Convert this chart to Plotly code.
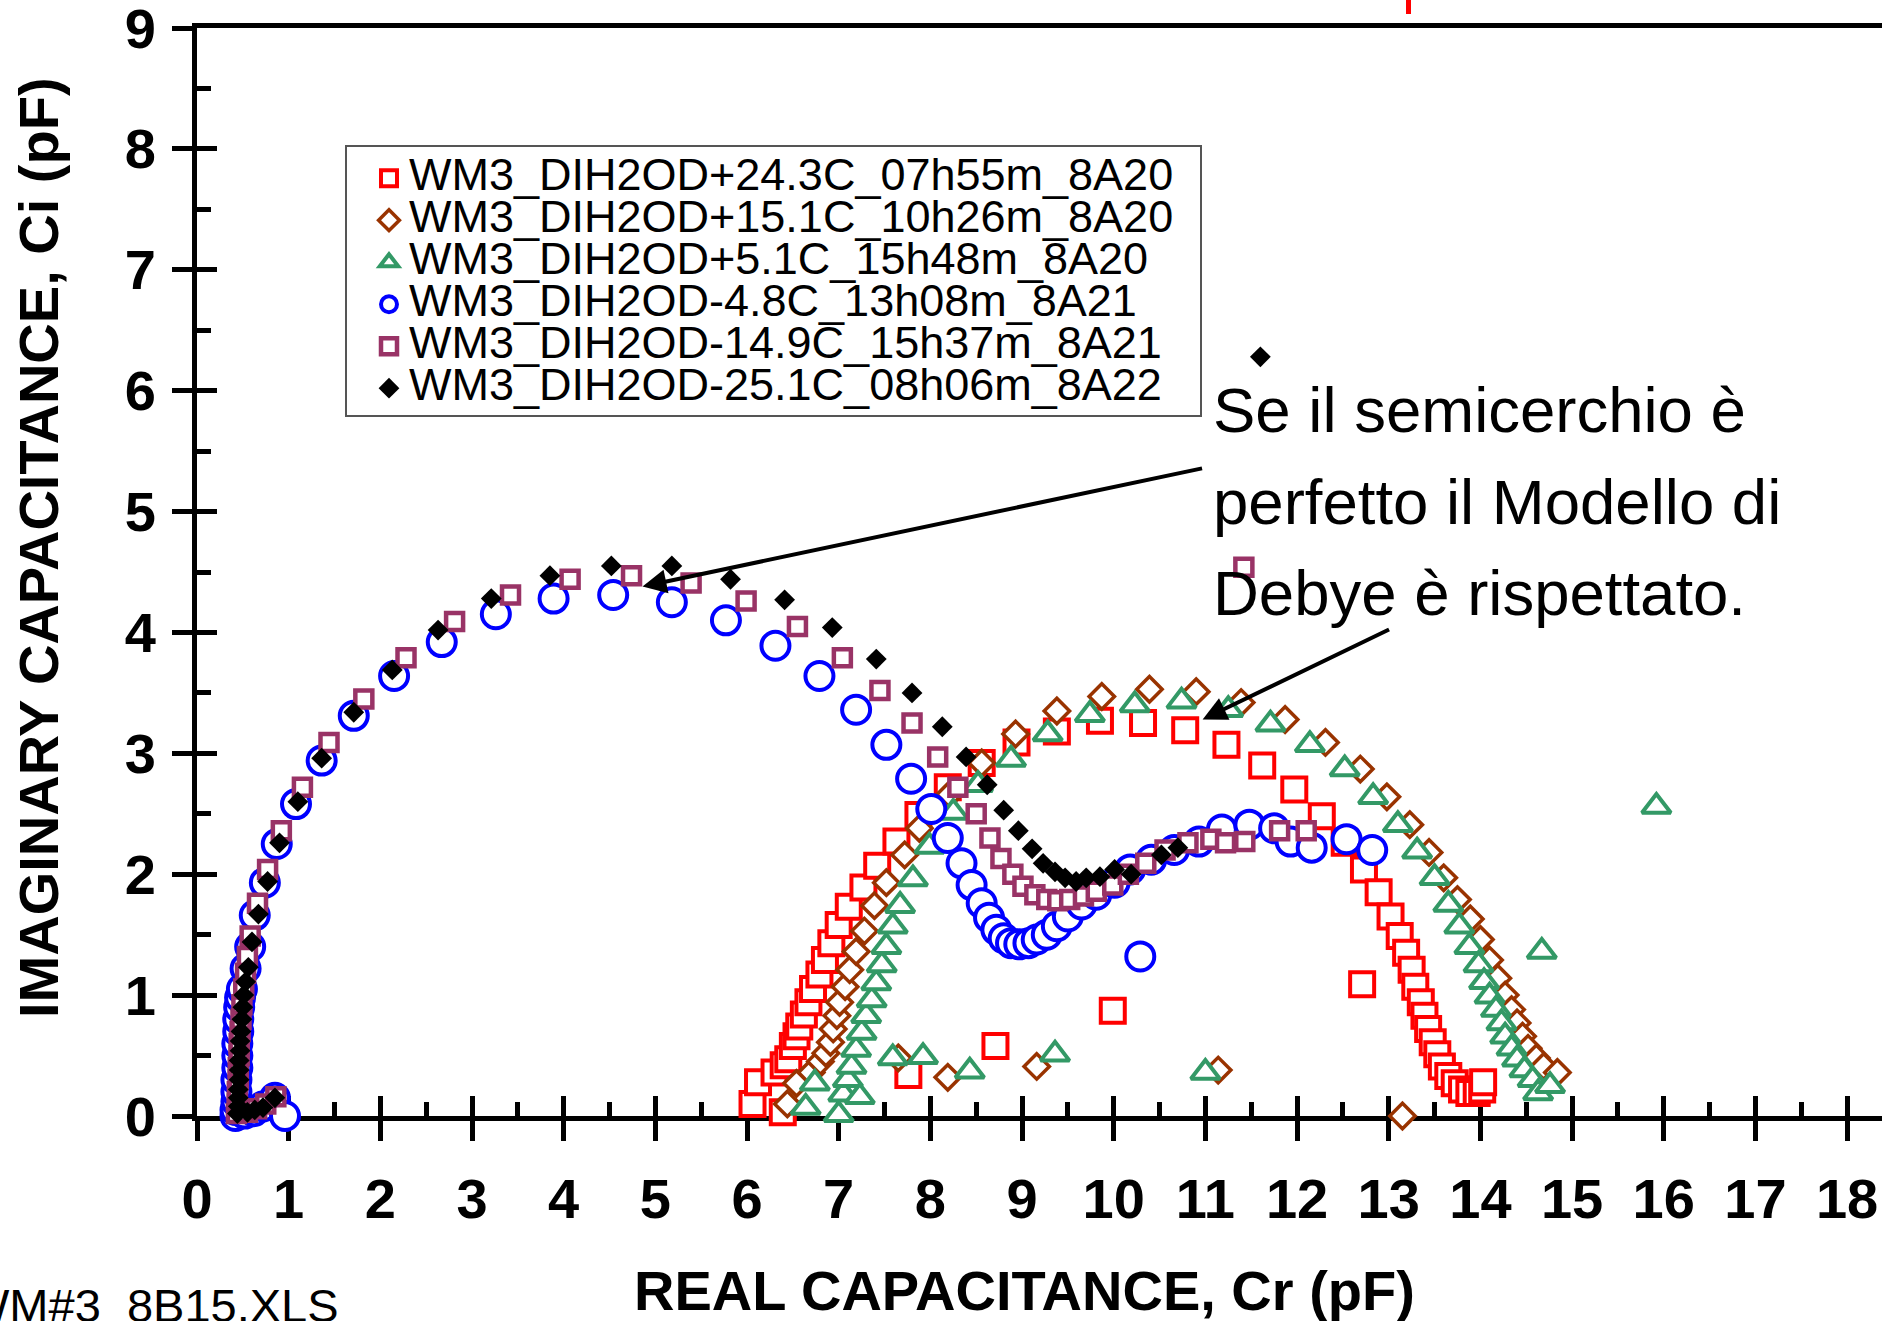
import plotly.graph_objects as go

# ---------------- data ----------------
names = ["WM3_DIH2OD+24.3C_07h55m_8A20", "WM3_DIH2OD+15.1C_10h26m_8A20",
         "WM3_DIH2OD+5.1C_15h48m_8A20", "WM3_DIH2OD-4.8C_13h08m_8A21",
         "WM3_DIH2OD-14.9C_15h37m_8A21", "WM3_DIH2OD-25.1C_08h06m_8A22"]

red_x = [6.06, 6.12, 6.39, 6.30, 6.40, 6.45, 6.50, 6.54, 6.57, 6.62, 6.67, 6.72, 6.79, 6.85, 6.92,
         7.00, 7.11, 7.27, 7.42, 7.63, 7.87, 8.19, 8.56, 8.94, 9.38, 9.85, 10.32, 10.78, 11.23,
         11.62, 11.97, 12.27, 12.52, 12.73, 12.89, 13.02, 13.12, 13.19, 13.25, 13.29, 13.35,
         13.39, 13.43, 13.48, 13.53, 13.58, 13.65, 13.72, 13.80, 13.88, 13.96, 14.02, 14.03,
         7.76, 8.71, 9.99, 12.71]
red_y = [0.10, 0.28, 0.03, 0.36, 0.42, 0.47, 0.58, 0.66, 0.74, 0.84, 0.94, 1.05, 1.17, 1.29, 1.43,
         1.58, 1.73, 1.89, 2.07, 2.27, 2.49, 2.72, 2.92, 3.09, 3.18, 3.27, 3.25, 3.19, 3.07,
         2.90, 2.70, 2.48, 2.26, 2.04, 1.85, 1.65, 1.49, 1.35, 1.21, 1.07, 0.94,
         0.83, 0.72, 0.61, 0.51, 0.41, 0.33, 0.27, 0.22, 0.19, 0.19, 0.22, 0.28,
         0.34, 0.58, 0.87, 1.09]

brown_x = [6.44, 6.54, 6.70, 6.80, 6.86, 6.91, 6.94, 6.98, 7.01, 7.07, 7.12, 7.19, 7.28, 7.39,
           7.52, 7.72, 7.88, 8.21, 8.56, 8.93, 9.38, 9.87, 10.39, 10.90, 11.39, 11.87, 12.31,
           12.69, 12.98, 13.23, 13.44, 13.60, 13.75, 13.89, 14.00, 14.10, 14.19, 14.27, 14.34,
           14.40, 14.46, 14.52, 14.61, 14.69, 14.84,
           7.65, 8.19, 9.16, 11.14, 13.15]
brown_y = [0.10, 0.27, 0.36, 0.45, 0.52, 0.61, 0.72, 0.83, 0.94, 1.07, 1.21, 1.36, 1.53, 1.74,
           1.93, 2.16, 2.38, 2.66, 2.92, 3.16, 3.35, 3.47, 3.53, 3.51, 3.42, 3.28, 3.09,
           2.87, 2.64, 2.41, 2.18, 1.97, 1.79, 1.63, 1.46, 1.29, 1.14, 1.00, 0.88,
           0.77, 0.66, 0.56, 0.48, 0.41, 0.36,
           0.48, 0.32, 0.41, 0.38, 0.00]

green_x = [6.64, 6.74, 7.00, 7.05, 7.10, 7.14, 7.19, 7.25, 7.30, 7.36, 7.41, 7.47, 7.52, 7.59,
           7.67, 7.81, 7.99, 8.25, 8.52, 8.88, 9.28, 9.74, 10.23, 10.74, 11.25, 11.71, 12.14,
           12.52, 12.83, 13.10, 13.31, 13.50, 13.65, 13.77, 13.88, 13.98, 14.04, 14.10, 14.17,
           14.23, 14.27, 14.34, 14.40, 14.48, 14.57, 14.63, 14.76,
           7.23, 7.59, 7.92, 8.43, 9.36, 11.00, 14.67, 15.92]
green_y = [0.07, 0.27, 0.01, 0.18, 0.30, 0.41, 0.55, 0.69, 0.83, 0.96, 1.10, 1.25, 1.40, 1.57,
           1.74, 1.96, 2.23, 2.51, 2.74, 2.95, 3.16, 3.32, 3.40, 3.43, 3.36, 3.24, 3.07,
           2.87, 2.64, 2.41, 2.19, 1.97, 1.75, 1.57, 1.40, 1.25, 1.11, 0.99, 0.88,
           0.77, 0.66, 0.56, 0.47, 0.38, 0.30, 0.19, 0.25,
           0.16, 0.48, 0.49, 0.37, 0.51, 0.36, 1.36, 2.56]

blue_x = [0.42, 0.42, 0.43, 0.43, 0.43, 0.44, 0.44, 0.44, 0.45, 0.45, 0.46, 0.47,
          0.52, 0.62, 0.72, 0.85, 0.96,
          0.49, 0.53, 0.58, 0.63, 0.74, 0.87, 1.08, 1.36, 1.71, 2.15, 2.67, 3.26, 3.89, 4.54,
          5.18, 5.77, 6.31, 6.79, 7.19, 7.52, 7.79, 8.01, 8.19, 8.34, 8.45, 8.56, 8.64, 8.72,
          8.80, 8.88, 8.97, 9.07, 9.16, 9.27, 9.38, 9.50, 9.65, 9.81, 10.01, 10.18, 10.41,
          10.66, 10.93, 11.18, 11.48, 11.75, 11.93, 12.16, 12.54, 12.82, 10.29]
blue_y = [0.00, 0.05, 0.12, 0.20, 0.30, 0.40, 0.50, 0.60, 0.70, 0.80, 0.90, 0.98,
          0.02, 0.04, 0.08, 0.15, 0.00,
          1.05, 1.22, 1.40, 1.66, 1.93, 2.25, 2.58, 2.94, 3.31, 3.64, 3.92, 4.15, 4.28, 4.31,
          4.25, 4.10, 3.89, 3.64, 3.36, 3.07, 2.79, 2.54, 2.30, 2.09, 1.91, 1.76, 1.64, 1.54,
          1.47, 1.43, 1.42, 1.43, 1.46, 1.50, 1.57, 1.65, 1.75, 1.83, 1.93, 2.04, 2.12,
          2.20, 2.27, 2.37, 2.41, 2.38, 2.27, 2.22, 2.29, 2.20, 1.32]

purple_x = [0.43, 0.44, 0.44, 0.45, 0.45, 0.46, 0.46, 0.47, 0.48, 0.49, 0.51,
            0.55, 0.65, 0.75, 0.86,
            0.53, 0.55, 0.58, 0.66, 0.77, 0.92, 1.15, 1.44, 1.82, 2.28, 2.81, 3.42, 4.07, 4.74,
            5.39, 5.99, 6.55, 7.04, 7.45, 7.80, 8.08, 8.30, 8.50, 8.65, 8.77, 8.90, 9.01, 9.14,
            9.27, 9.39, 9.52, 9.67, 9.81, 9.99, 10.16, 10.35, 10.56, 10.81, 11.06, 11.22, 11.43,
            11.81, 12.10, 11.42]
purple_y = [0.02, 0.10, 0.20, 0.30, 0.40, 0.50, 0.60, 0.70, 0.80, 0.92, 1.05,
            0.03, 0.06, 0.10, 0.16,
            1.18, 1.32, 1.49, 1.76, 2.04, 2.36, 2.72, 3.09, 3.45, 3.79, 4.09, 4.31, 4.44, 4.47,
            4.41, 4.26, 4.05, 3.79, 3.52, 3.25, 2.97, 2.72, 2.50, 2.30, 2.13, 2.00, 1.90, 1.83,
            1.79, 1.78, 1.79, 1.82, 1.86, 1.91, 2.00, 2.09, 2.20, 2.26, 2.29, 2.26, 2.27,
            2.36, 2.36, 4.54]

black_x = [0.44, 0.45, 0.45, 0.45, 0.46, 0.46, 0.46, 0.47, 0.47, 0.48, 0.49, 0.50, 0.51, 0.53,
           0.55, 0.63, 0.72, 0.85,
           0.56, 0.60, 0.67, 0.77, 0.90, 1.10, 1.36, 1.71, 2.13, 2.63, 3.21, 3.85, 4.52, 5.18,
           5.82, 6.41, 6.93, 7.41, 7.80, 8.13, 8.39, 8.62, 8.80, 8.96, 9.11, 9.23, 9.36, 9.47,
           9.59, 9.70, 9.85, 10.01, 10.19, 10.52, 10.70, 11.60]
black_y = [0.02, 0.08, 0.15, 0.22, 0.30, 0.38, 0.46, 0.54, 0.62, 0.70, 0.80, 0.90, 1.00, 1.11,
           0.03, 0.05, 0.07, 0.15,
           1.23, 1.44, 1.67, 1.94, 2.26, 2.60, 2.96, 3.34, 3.69, 4.02, 4.28, 4.47, 4.55, 4.55,
           4.44, 4.27, 4.04, 3.78, 3.50, 3.22, 2.97, 2.74, 2.53, 2.36, 2.21, 2.09, 2.02, 1.97,
           1.94, 1.97, 1.98, 2.04, 2.00, 2.16, 2.22, 6.28]

x_ticks = list(range(0, 19))
y_ticks = list(range(0, 10))

# ---------------- geometry ----------------
W, H = 1882, 1321
L, R, T, B = 197, 1882, 28, 1116
X_MAX = (R - L) / 91.67


def px(x):
    return (x - L) / (R - L)


def py(y):
    return (B - y) / (B - T)


xs = [red_x, brown_x, green_x, blue_x, purple_x, black_x]
ys = [red_y, brown_y, green_y, blue_y, purple_y, black_y]
styles = [
    dict(symbol="square", size=24, color="white", line=dict(color="#FF0000", width=4)),
    dict(symbol="diamond", size=19.5, color="white", line=dict(color="#993300", width=3.5)),
    dict(symbol="triangle-up", size=25, color="white", line=dict(color="#339966", width=4)),
    dict(symbol="circle", size=28, color="white", line=dict(color="#0000FF", width=4)),
    dict(symbol="square", size=17, color="white", line=dict(color="#993366", width=4.5)),
    dict(symbol="diamond", size=16, color="black", line=dict(color="black", width=0)),
]

fig = go.Figure()
for nm, x, y, st in zip(names, xs, ys, styles):
    fig.add_trace(go.Scatter(
        x=x, y=y, mode="markers", marker=st, cliponaxis=False,
        name='<span style="font-size:45px">' + nm + '&nbsp;</span>&nbsp;'))

# dummy trace for the overlay axes (inside ticks)
fig.add_trace(go.Scatter(x=[None], y=[None], xaxis="x2", yaxis="y2",
                         showlegend=False, hoverinfo="skip"))

tickfont = dict(family="Liberation Sans, Arial, sans-serif", size=56, color="black", weight="bold")

fig.update_layout(
    width=W, height=H,
    margin=dict(l=L, r=W - R, t=T, b=H - B, pad=0, autoexpand=False),
    paper_bgcolor="white", plot_bgcolor="white",
    showlegend=True,
    legend=dict(x=px(345), y=py(145), xanchor="left", yanchor="top",
                font=dict(family="Liberation Sans, Arial, sans-serif", size=30, color="black"),
                title=dict(text="&nbsp;", font=dict(size=4)),
                bgcolor="white", bordercolor="#555555", borderwidth=2,
                indentation=22, tracegroupgap=0),
    xaxis=dict(range=[0, X_MAX], tickvals=x_ticks, ticktext=[str(v) for v in x_ticks],
               ticks="outside", ticklen=20, tickwidth=4.5, tickcolor="black",
               showline=True, linewidth=5, linecolor="black", mirror=True,
               showgrid=False, zeroline=False, tickfont=tickfont,
               ticklabelstandoff=10, ticklabeloverflow="allow",
               layer="below traces", fixedrange=True),
    yaxis=dict(range=[0, 9], tickvals=y_ticks, ticktext=[str(v) for v in y_ticks],
               ticks="outside", ticklen=20, tickwidth=4.5, tickcolor="black",
               showline=True, linewidth=5, linecolor="black", mirror=False,
               showgrid=False, zeroline=False, tickfont=tickfont,
               ticklabelstandoff=5, ticklabeloverflow="allow",
               layer="below traces", fixedrange=True),
    xaxis2=dict(overlaying="x", anchor="y", side="bottom", range=[0, X_MAX],
                tickvals=x_ticks, ticks="inside", ticklen=20, tickwidth=4.5, tickcolor="black",
                minor=dict(ticks="inside", ticklen=14, tickwidth=4.5, tickcolor="black", dtick=0.5, tick0=0),
                showticklabels=False, showline=False, showgrid=False, zeroline=False,
                layer="below traces", fixedrange=True),
    yaxis2=dict(overlaying="y", anchor="x", side="left", range=[0, 9],
                tickvals=y_ticks, ticks="inside", ticklen=20, tickwidth=4.5, tickcolor="black",
                minor=dict(ticks="inside", ticklen=14, tickwidth=4.5, tickcolor="black", dtick=0.5, tick0=0),
                showticklabels=False, showline=False, showgrid=False, zeroline=False,
                layer="below traces", fixedrange=True),
)

title_font = dict(family="Liberation Sans, Arial, sans-serif", size=56, color="black", weight="bold")
note_font = dict(family="Liberation Sans, Arial, sans-serif", size=63.5, color="black")

annotations = [
    dict(text="REAL CAPACITANCE, Cr (pF)", x=px(1024), y=py(1290), xref="paper", yref="paper",
         xanchor="center", yanchor="middle", showarrow=False, font=title_font),
    dict(text="IMAGINARY CAPACITANCE, Ci (pF)", x=px(38), y=py(548), xref="paper", yref="paper",
         xanchor="center", yanchor="middle", showarrow=False, textangle=-90, font=title_font),
    dict(text="WM#3_8B15.XLS", x=px(341), y=py(1305), xref="paper", yref="paper",
         xanchor="right", yanchor="middle", showarrow=False,
         font=dict(family="Liberation Sans, Arial, sans-serif", size=47, color="black")),
    dict(text="Se il semicerchio è", x=px(1211), y=py(410), xref="paper", yref="paper",
         xanchor="left", yanchor="middle", showarrow=False, font=note_font),
    dict(text="perfetto il Modello di", x=px(1211), y=py(502), xref="paper", yref="paper",
         xanchor="left", yanchor="middle", showarrow=False, font=note_font),
    dict(text="Debye è rispettato.", x=px(1211), y=py(593), xref="paper", yref="paper",
         xanchor="left", yanchor="middle", showarrow=False, font=note_font),
    dict(text="", x=4.86, y=4.38, ax=10.98, ay=5.36, xref="x", yref="y", axref="x", ayref="y",
         showarrow=True, arrowhead=2, arrowsize=1.2, arrowwidth=4, arrowcolor="black", standoff=0),
    dict(text="", x=10.97, y=3.28, ax=13.02, ay=4.03, xref="x", yref="y", axref="x", ayref="y",
         showarrow=True, arrowhead=2, arrowsize=1.2, arrowwidth=4, arrowcolor="black", standoff=0),
]
fig.update_layout(annotations=annotations)

# small red fragment cut off at the top edge of the picture
fig.add_shape(type="rect", xref="paper", yref="paper",
              x0=px(1406), x1=px(1411), y0=py(14), y1=py(0),
              fillcolor="#FF0000", line=dict(width=0))

fig.write_html("out.html", config={"displayModeBar": False},
               post_script="document.body.style.margin='0';document.body.style.overflow='hidden';")
